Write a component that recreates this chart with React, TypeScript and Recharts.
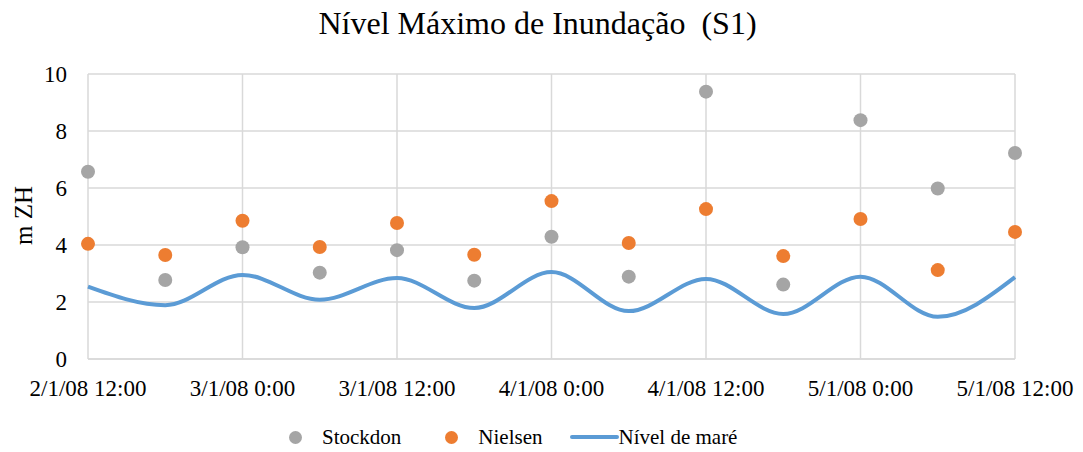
import React from 'react';
import {
  ComposedChart,
  Scatter,
  Line,
  XAxis,
  YAxis,
  CartesianGrid,
  Legend,
} from 'recharts';

// hours since 2/1/08 12:00
const hours = [0, 6, 12, 18, 24, 30, 36, 42, 48, 54, 60, 66, 72];
const stockdon = [6.57, 2.77, 3.92, 3.03, 3.82, 2.75, 4.29, 2.89, 9.38, 2.61, 8.38, 5.98, 7.23];
const nielsen = [4.04, 3.65, 4.85, 3.93, 4.77, 3.66, 5.54, 4.07, 5.26, 3.61, 4.91, 3.12, 4.46];
const tide = [2.54, 1.89, 2.95, 2.08, 2.84, 1.79, 3.05, 1.68, 2.81, 1.58, 2.89, 1.48, 2.87];

const xTicks = [0, 12, 24, 36, 48, 60, 72];
const xTickLabels = ['2/1/08 12:00', '3/1/08 0:00', '3/1/08 12:00', '4/1/08 0:00', '4/1/08 12:00', '5/1/08 0:00', '5/1/08 12:00'];
const yTicks = [0, 2, 4, 6, 8, 10];

const data = hours.map((t, i) => ({
  t,
  stockdon: stockdon[i],
  nielsen: nielsen[i],
  tide: tide[i],
}));

const FONT = '"Liberation Serif", "Times New Roman", serif';
const GRAY = '#A5A5A5';
const ORANGE = '#ED7D31';
const BLUE = '#5B9BD5';

const dot = (color: string) => (props: any) => (
  <circle cx={props.cx} cy={props.cy} r={7} fill={color} />
);

const LegendContent = () => (
  <div
    style={{
      height: 40,
      boxSizing: 'border-box',
      paddingTop: 26,
      paddingLeft: 281,
      display: 'flex',
      alignItems: 'center',
      fontFamily: FONT,
      fontSize: 21,
      color: '#000',
    }}
  >
    <span style={{ width: 13, height: 13, borderRadius: '50%', background: GRAY, display: 'inline-block' }} />
    <span style={{ marginLeft: 20 }}>Stockdon</span>
    <span style={{ marginLeft: 44, width: 13, height: 13, borderRadius: '50%', background: ORANGE, display: 'inline-block' }} />
    <span style={{ marginLeft: 20 }}>Nielsen</span>
    <span style={{ marginLeft: 27, width: 49, height: 4, borderRadius: 2, background: BLUE, display: 'inline-block' }} />
    <span>Nível de maré</span>
  </div>
);

export default function App() {
  return (
    <div style={{ position: 'relative', width: 1067, height: 436, fontFamily: FONT }}>
      <div
        style={{
          position: 'absolute',
          top: 0,
          left: -4,
          width: 1067,
          textAlign: 'center',
          fontSize: 32,
          lineHeight: '31px',
          whiteSpace: 'pre',
          color: '#000',
        }}
      >
        {'Nível Máximo de Inundação  (S1)'}
      </div>
      <ComposedChart
        width={1067}
        height={436}
        data={data}
        margin={{ top: 66, right: 60, bottom: 0, left: 0 }}
      >
        <CartesianGrid stroke="#d9d9d9" strokeWidth={1.5} />
        <XAxis
          dataKey="t"
          type="number"
          domain={[0, 72]}
          ticks={xTicks}
          tickFormatter={(v: number) => xTickLabels[xTicks.indexOf(v)]}
          height={45}
          tickLine={false}
          tickMargin={15}
          axisLine={{ stroke: '#d9d9d9', strokeWidth: 1.5 }}
          tick={{ fill: '#000', fontSize: 23, fontFamily: FONT }}
          interval={0}
        />
        <YAxis
          type="number"
          domain={[0, 10]}
          ticks={yTicks}
          width={80}
          tickLine={false}
          axisLine={false}
          tickMargin={15}
          tick={{ fill: '#000', fontSize: 23, fontFamily: FONT }}
          label={(props: any) => {
            const vb = props.viewBox || { x: 0, y: 66, height: 285 };
            const cx = 15;
            const cy = vb.y + vb.height / 2 - 1;
            return (
              <text
                x={cx}
                y={cy}
                transform={`rotate(-90, ${cx}, ${cy})`}
                textAnchor="middle"
                dominantBaseline="central"
                fontSize={25}
                fontFamily={FONT}
                fill="#000"
              >
                m ZH
              </text>
            );
          }}
        />
        <Legend verticalAlign="bottom" height={40} content={<LegendContent />} />
        <Scatter name="Stockdon" dataKey="stockdon" fill={GRAY} shape={dot(GRAY)} isAnimationActive={false} />
        <Scatter name="Nielsen" dataKey="nielsen" fill={ORANGE} shape={dot(ORANGE)} isAnimationActive={false} />
        <Line
          name="Nível de maré"
          type="monotone"
          dataKey="tide"
          stroke={BLUE}
          strokeWidth={4}
          dot={false}
          activeDot={false}
          isAnimationActive={false}
        />
      </ComposedChart>
    </div>
  );
}
